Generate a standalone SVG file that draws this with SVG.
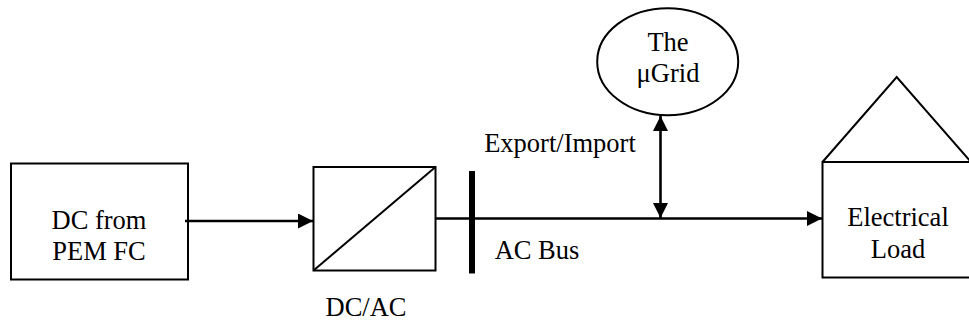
<svg xmlns="http://www.w3.org/2000/svg" width="969" height="323" viewBox="0 0 969 323">
<style>
text{font-family:"Liberation Serif","Times New Roman",serif;font-size:26.5px;fill:#000;text-anchor:middle}
.s{fill:#fff;stroke:#000;stroke-width:2}
.t{fill:none;stroke:#000;stroke-width:2}
.c{fill:none;stroke:#000;stroke-width:2.6}
</style>
<defs>
<marker id="a" markerUnits="userSpaceOnUse" markerWidth="16" markerHeight="16" refX="15" refY="7.5" orient="auto-start-reverse"><path d="M0 0L15 7.5L0 15Z" fill="#000"/></marker>
</defs>
<rect width="969" height="323" fill="#fff"/>
<g id="dc-source"><rect class="s" x="11" y="163.500" width="177" height="116"/><text x="99" y="229">DC from</text><text x="99" y="260">PEM FC</text></g>
<g id="converter"><rect class="s" x="313.500" y="167" width="122" height="103.500"/><line class="t" x1="313.500" y1="270.500" x2="435.500" y2="167"/><text x="366" y="316">DC/AC</text></g>
<g id="ac-bus"><rect x="469" y="171" width="6" height="102.500" fill="#000"/><text x="537" y="259">AC Bus</text></g>
<g id="microgrid"><ellipse class="s" cx="667.700" cy="61.700" rx="70.500" ry="53.500"/><text x="668" y="51">The</text><text x="668" y="82">μGrid</text></g>
<text id="export-import" x="560" y="152">Export/Import</text>
<g id="load"><path class="t" d="M822.500 162L896.700 77L971 162"/><rect class="s" x="822.500" y="162" width="150" height="115.500"/><text x="898" y="226">Electrical</text><text x="898" y="258">Load</text></g>
<g id="connectors">
<line class="c" x1="185" y1="221" x2="313" y2="221" marker-end="url(#a)"/>
<line class="c" x1="436" y1="218.500" x2="822" y2="218.500" marker-end="url(#a)"/>
<line class="c" x1="660.500" y1="116" x2="660.500" y2="218" marker-start="url(#a)" marker-end="url(#a)"/>
</g>
</svg>
